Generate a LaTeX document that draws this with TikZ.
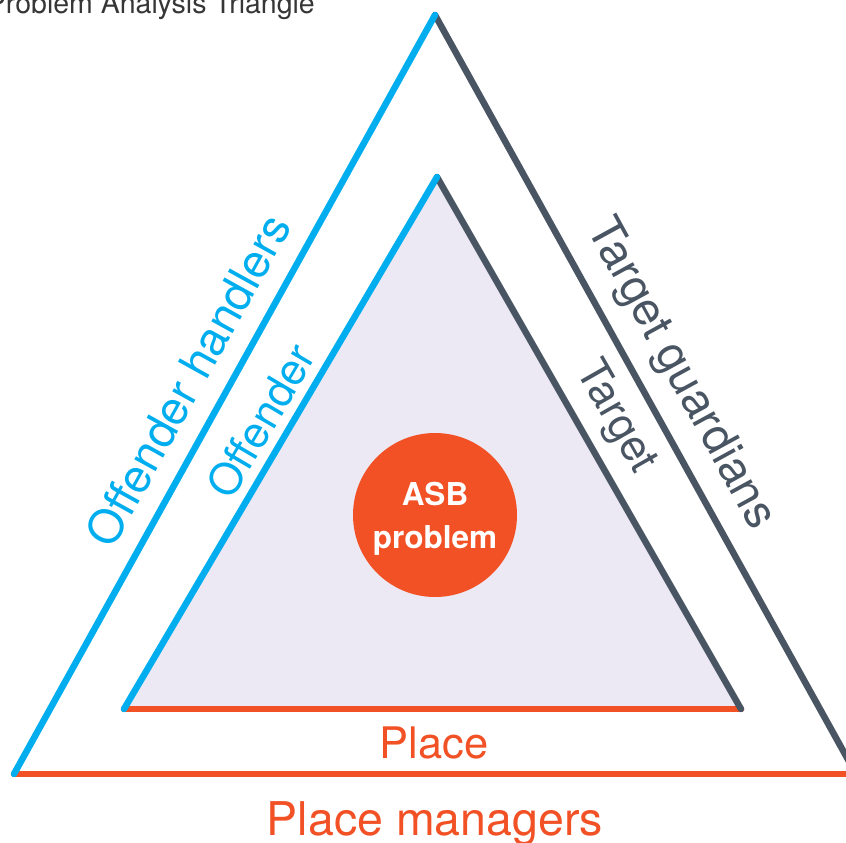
\documentclass[tikz,border=0pt]{standalone}
\usepackage{fontspec}
\setmainfont{TeX Gyre Heros}
\definecolor{pblue}{HTML}{00AEEF}
\definecolor{pgray}{HTML}{4A5563}
\definecolor{porange}{HTML}{F15125}
\definecolor{plav}{HTML}{ECE9F4}
\definecolor{ptitle}{HTML}{363636}
\begin{document}
\begin{tikzpicture}[x=1pt,y=-1pt,
  side/.style={line width=6.5pt,line cap=round},
  outerlabel/.style={font=\fontsize{46.5}{54}\selectfont,inner sep=0pt,
    text height=33.5pt,text depth=0pt,anchor=center},
  innerlabel/.style={font=\fontsize{43.5}{52}\selectfont,inner sep=0pt,
    text height=31.3pt,text depth=0pt,anchor=center}]
\useasboundingbox (0,0) rectangle (846,843);
\clip (0,0) rectangle (846,843);

% vertices of the two triangles
\coordinate (ot) at (435,15);
\coordinate (ol) at (14,774);
\coordinate (or) at (856,774);
\coordinate (it) at (437,177);
\coordinate (il) at (124,709);
\coordinate (ir) at (741,709);

% inner area
\fill[plav] (il) -- (it) -- (ir) -- cycle;

% sides
\draw[side,porange] (ol) -- (or);
\draw[side,porange] (il) -- (ir);
\draw[side,pgray] (ot) -- (or);
\draw[side,pgray] (it) -- (ir);
\draw[side,pblue] (ol) -- (ot);
\draw[side,pblue] (il) -- (it);

% centre circle
\node[circle,minimum size=164pt,inner sep=0pt,fill=porange,text=white,
  align=center,font=\bfseries\fontsize{31.5}{43}\selectfont,text depth=0pt]
  (asb) at (435,515) {ASB\\problem};

% side labels
\node[outerlabel,text=pblue,rotate=61] (handlers) at (188,380) {Offender handlers};
\node[innerlabel,text=pblue,rotate=59.5] (offender) at (261,421) {Offender};
\node[outerlabel,text=pgray,rotate=-61.3] (guardians) at (684,372) {Target guardians};
\node[innerlabel,text=pgray,rotate=-60.3] (target) at (619,415) {Target};
\node[innerlabel,text=porange] (place) at (434,742.5) {Place};
\node[outerlabel,text=porange] (managers) at (435,818.8) {Place managers};

% title
\node[anchor=base east,inner sep=0pt,text=ptitle,font=\fontsize{28.5}{32}\selectfont]
  (title) at (315,14) {Problem Analysis Triangle};
\end{tikzpicture}
\end{document}
